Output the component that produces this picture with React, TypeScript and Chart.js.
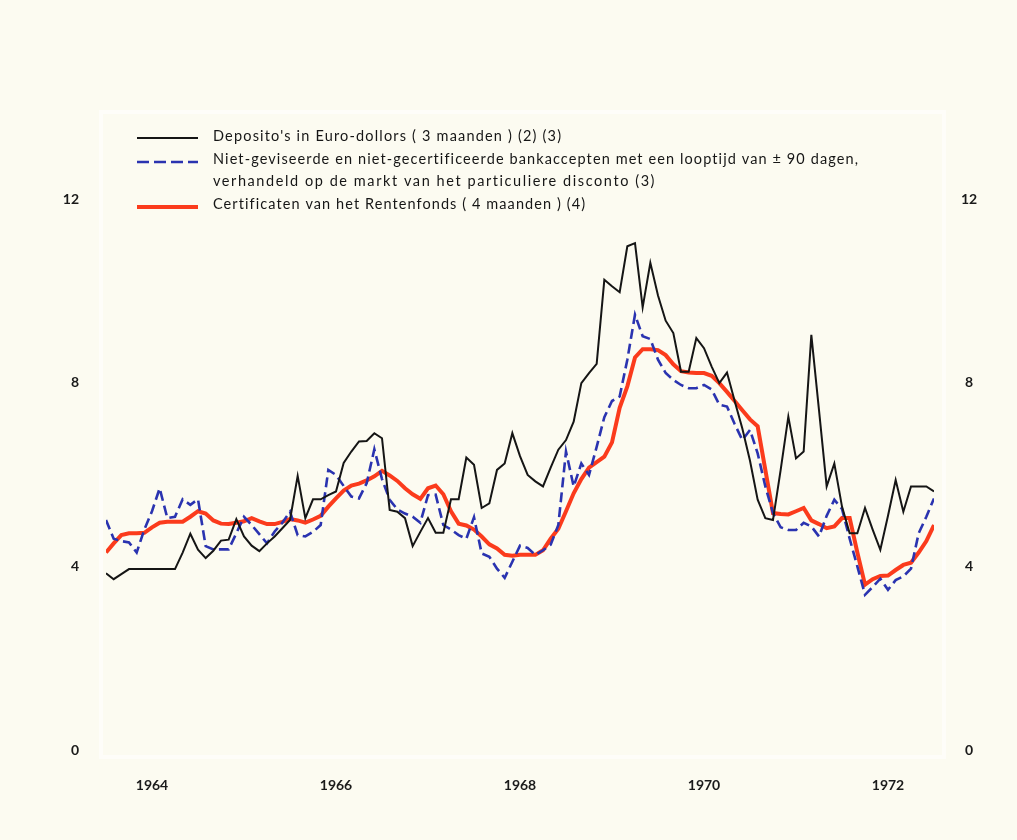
import React, { useEffect, useRef } from "react";
import { Chart, registerables } from "chart.js";

Chart.register(...registerables);

// Monthly observations, starting mid-1963
const START_YEAR = 1963.5;
const yearTicks = [1964, 1966, 1968, 1970, 1972];
const valueTicks = [0, 4, 8, 12];

const seriesLabels = [
  ["Deposito's in Euro-dollors ( 3 maanden ) (2) (3)"],
  [
    "Niet-geviseerde en niet-gecertificeerde bankaccepten met een looptijd van ± 90 dagen,",
    "verhandeld op de markt van het particuliere disconto (3)",
  ],
  ["Certificaten van het Rentenfonds ( 4 maanden ) (4)"],
];

const depositValues = [
  3.85, 3.72, 3.83, 3.94, 3.94, 3.94, 3.94, 3.94, 3.94, 3.94,
  4.3, 4.71, 4.36, 4.18, 4.34, 4.56, 4.58, 5.03, 4.65, 4.45,
  4.33, 4.5, 4.65, 4.83, 5.01, 5.97, 5.05, 5.46, 5.46, 5.55,
  5.63, 6.25, 6.5, 6.72, 6.73, 6.9, 6.79, 5.23, 5.19, 5.05,
  4.44, 4.75, 5.05, 4.73, 4.73, 5.46, 5.46, 6.37, 6.21, 5.27,
  5.37, 6.1, 6.24, 6.9, 6.4, 5.99, 5.85, 5.74, 6.15, 6.54,
  6.75, 7.15, 7.99, 8.21, 8.41, 10.24, 10.1, 9.97, 10.97, 11.04,
  9.64, 10.61, 9.9, 9.35, 9.08, 8.24, 8.24, 8.97, 8.75, 8.35,
  7.99, 8.22, 7.6, 7.0, 6.3, 5.45, 5.05, 5.01, 6.1, 7.26,
  6.35, 6.5, 9.04, 7.4, 5.74, 6.24, 5.3, 4.72, 4.72, 5.27,
  4.8, 4.36, 5.1, 5.88, 5.19, 5.74, 5.74, 5.74, 5.63,
];

const acceptValues = [
  5.01, 4.6, 4.55, 4.52, 4.3, 4.8, 5.2, 5.7, 5.05, 5.08,
  5.46, 5.34, 5.46, 4.44, 4.37, 4.37, 4.37, 4.72, 5.08, 4.9,
  4.7, 4.5, 4.76, 4.95, 5.19, 4.68, 4.65, 4.75, 4.9, 6.1,
  5.99, 5.75, 5.52, 5.48, 5.81, 6.55, 5.9, 5.45, 5.24, 5.15,
  5.08, 4.95, 5.55, 5.56, 4.9, 4.8, 4.68, 4.6, 5.07, 4.28,
  4.21, 3.95, 3.75, 4.1, 4.45, 4.4, 4.25, 4.35, 4.47, 4.9,
  6.5, 5.74, 6.24, 5.99, 6.6, 7.25, 7.6, 7.7, 8.5, 9.48,
  9.01, 8.95, 8.5, 8.21, 8.06, 7.95, 7.88, 7.88, 7.95, 7.85,
  7.52, 7.48, 7.1, 6.75, 6.97, 6.46, 5.74, 5.16, 4.85, 4.79,
  4.79, 4.95, 4.87, 4.65, 5.1, 5.45, 5.25, 4.6, 4.0, 3.38,
  3.55, 3.73, 3.49, 3.7, 3.78, 3.95, 4.72, 5.08, 5.48,
];

const certValues = [
  4.3, 4.5, 4.68, 4.72, 4.72, 4.73, 4.85, 4.95, 4.97, 4.97,
  4.97, 5.08, 5.2, 5.15, 5.0, 4.93, 4.92, 4.95, 4.98, 5.05,
  4.98, 4.92, 4.92, 4.97, 5.03, 5.0, 4.95, 5.02, 5.1, 5.3,
  5.48, 5.65, 5.76, 5.8, 5.87, 5.96, 6.08, 5.98, 5.86, 5.7,
  5.57, 5.47, 5.7, 5.76, 5.57, 5.2, 4.93, 4.89, 4.8, 4.65,
  4.48, 4.39, 4.25, 4.23, 4.25, 4.25, 4.25, 4.35, 4.6, 4.82,
  5.2, 5.59, 5.9, 6.15, 6.27, 6.39, 6.7, 7.45, 7.92, 8.55,
  8.73, 8.73, 8.71, 8.6, 8.4, 8.25, 8.22, 8.21, 8.21, 8.15,
  7.99, 7.8, 7.6, 7.4, 7.2, 7.05, 6.1, 5.16, 5.14, 5.13,
  5.2, 5.27, 5.0, 4.92, 4.83, 4.87, 5.05, 5.05, 4.3, 3.6,
  3.72, 3.79, 3.8, 3.92, 4.03, 4.08, 4.3, 4.55, 4.9,
];

const BG = "#fcfbf1";
const BLACK = "#151515";
const BLUE = "#2a33b0";
const RED = "#fb3b1c";

const toPoints = (vals: number[]) =>
  vals.map((v, i) => ({ x: START_YEAR + i / 12, y: v }));

const paperPlugin = {
  id: "paper",
  beforeDraw(chart: any) {
    const ctx = chart.ctx;
    ctx.save();
    ctx.fillStyle = BG;
    ctx.fillRect(0, 0, chart.width, chart.height);
    ctx.strokeStyle = "rgba(255,255,255,0.55)";
    ctx.lineWidth = 4;
    ctx.strokeRect(101, 112, 843, 645);
    ctx.restore();
  },
};

const legendPlugin = {
  id: "printedLegend",
  afterDraw(chart: any) {
    const ctx = chart.ctx;
    const samples = [
      { y: 138, color: BLACK, width: 2, dash: [] as number[], lineY: [136], targets: [348] },
      { y: 162, color: BLUE, width: 2.6, dash: [12, 5], lineY: [159, 181], targets: [645, 442] },
      { y: 207, color: RED, width: 4, dash: [] as number[], lineY: [204], targets: [372] },
    ];
    ctx.save();
    samples.forEach((s, i) => {
      ctx.beginPath();
      ctx.setLineDash(s.dash);
      ctx.strokeStyle = s.color;
      ctx.lineWidth = s.width;
      ctx.moveTo(137, s.y);
      ctx.lineTo(198, s.y);
      ctx.stroke();
      ctx.setLineDash([]);
      ctx.fillStyle = "#161616";
      ctx.font = "14.5px Lato";
      ctx.textBaseline = "middle";
      ctx.textAlign = "left";
      seriesLabels[i].forEach((txt, j) => {
        (ctx as any).letterSpacing = "0px";
        const w = ctx.measureText(txt).width;
        const ls = (s.targets[j] - w) / Math.max(1, txt.length - 1);
        (ctx as any).letterSpacing = `${ls.toFixed(2)}px`;
        ctx.fillText(txt, 213, s.lineY[j]);
      });
      (ctx as any).letterSpacing = "0px";
    });
    ctx.restore();
  },
};

export default function App() {
  const ref = useRef<HTMLCanvasElement | null>(null);

  useEffect(() => {
    if (!ref.current) return;
    const tickFont = { family: "Lato", size: 14, weight: "bold" as const };
    const chart = new Chart(ref.current, {
      type: "line",
      data: {
        datasets: [
          {
            label: seriesLabels[0][0],
            data: toPoints(depositValues),
            borderColor: BLACK,
            borderWidth: 2,
            pointRadius: 0,
            tension: 0,
            fill: false,
          },
          {
            label: seriesLabels[1].join(" "),
            data: toPoints(acceptValues),
            borderColor: BLUE,
            borderWidth: 2.6,
            borderDash: [10, 5],
            pointRadius: 0,
            tension: 0,
            fill: false,
          },
          {
            label: seriesLabels[2][0],
            data: toPoints(certValues),
            borderColor: RED,
            borderWidth: 4,
            pointRadius: 0,
            tension: 0,
            fill: false,
          },
        ],
      },
      options: {
        animation: false,
        responsive: false,
        devicePixelRatio: 1,
        layout: { padding: { top: 199, left: 0, right: 0, bottom: 0 } },
        plugins: {
          legend: { display: false },
          tooltip: { enabled: false },
        },
        scales: {
          x: {
            type: "linear",
            min: START_YEAR,
            max: START_YEAR + (depositValues.length - 1) / 12,
            afterBuildTicks: (s: any) => {
              s.ticks = yearTicks.map((v) => ({ value: v }));
            },
            afterFit: (s: any) => {
              s.height = 90;
            },
            grid: { display: false, drawTicks: false },
            border: { display: false },
            ticks: {
              autoSkip: false,
              maxRotation: 0,
              padding: 27,
              color: "#1a1a1a",
              font: { family: "Lato", size: 14, weight: "bold" as const },
              callback: (v: any) => String(v),
            },
          },
          y: {
            position: "left",
            min: 0,
            max: 12,
            afterBuildTicks: (s: any) => {
              s.ticks = valueTicks.map((v) => ({ value: v }));
            },
            afterFit: (s: any) => {
              s.width = 106;
            },
            grid: { display: false, drawTicks: false },
            border: { display: false },
            ticks: {
              crossAlign: "near",
              padding: 27,
              color: "#1a1a1a",
              font: tickFont,
              callback: (v: any) => String(v),
            },
          },
          y2: {
            position: "right",
            min: 0,
            max: 12,
            afterBuildTicks: (s: any) => {
              s.ticks = valueTicks.map((v) => ({ value: v }));
            },
            afterFit: (s: any) => {
              s.width = 83;
            },
            grid: { display: false, drawTicks: false },
            border: { display: false },
            ticks: {
              crossAlign: "center",
              padding: 27,
              color: "#1a1a1a",
              font: tickFont,
              callback: (v: any) => String(v),
            },
          },
        },
      },
      plugins: [paperPlugin, legendPlugin],
    });
    return () => chart.destroy();
  }, []);

  return (
    <div
      style={{
        position: "absolute",
        left: 0,
        top: 0,
        width: 1017,
        height: 840,
        background: BG,
      }}
    >
      <canvas ref={ref} width={1017} height={840} style={{ width: 1017, height: 840, display: "block" }} />
    </div>
  );
}
